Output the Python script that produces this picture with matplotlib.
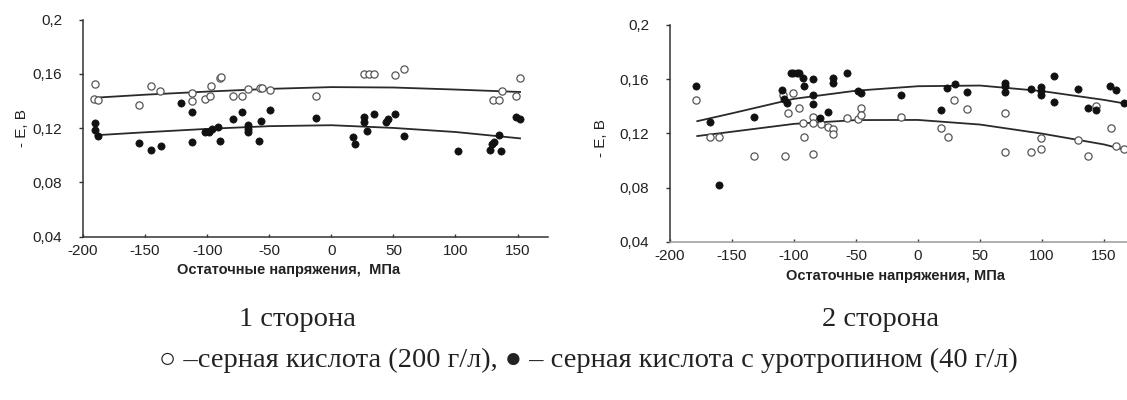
import matplotlib
matplotlib.use("Agg")
import matplotlib.pyplot as plt

# ---------------- data: side 1 ----------------
s1_open_x = [-190.5, -191, -188.3, -154.6, -145, -138.3, -112.2, -112.2, -101.4, -97.6,
             -96.7, -90, -88.6, -79, -72.3, -66.8, -57.3, -56, -49.7, -12.5,
             26.7, 30.7, 34, 51.3, 58.8, 130, 135, 137.7, 148.4, 151.6]
s1_open_y = [0.1524, 0.1413, 0.1409, 0.1372, 0.1514, 0.1477, 0.1463, 0.1401, 0.1413, 0.144,
             0.1514, 0.1568, 0.158, 0.1438, 0.1438, 0.149, 0.1494, 0.1494, 0.1482, 0.144,
             0.1602, 0.1602, 0.1602, 0.159, 0.164, 0.1411, 0.1411, 0.1475, 0.1435, 0.1573]
s1_fill_x = [-190.5, -190.5, -188.3, -154.6, -145, -137.5, -121.2, -112.2, -112.2, -101.4,
             -98.6, -96, -91.3, -89.4, -79, -72.3, -66.8, -66.8, -66.8, -56.8,
             -57.9, -49.7, -12.5, 17.4, 18.7, 26.2, 26.7, 28.9, 34, 44.1,
             45.5, 51.3, 58.8, 102.4, 127.8, 129.7, 131, 135, 136.9, 148.4, 151.6]
s1_fill_y = [0.1242, 0.1188, 0.1139, 0.109, 0.104, 0.107, 0.1384, 0.1323, 0.1097, 0.1175,
             0.1175, 0.1195, 0.1212, 0.1109, 0.1269, 0.1318, 0.1225, 0.1195, 0.117, 0.1256,
             0.1109, 0.1335, 0.1274, 0.1136, 0.1082, 0.1279, 0.1247, 0.118, 0.1308, 0.1247,
             0.1271, 0.1308, 0.1144, 0.1033, 0.1038, 0.1087, 0.11, 0.1148, 0.1033, 0.1279, 0.1266]
s1_trend_x = [-190, -150, -100, -50, 0, 50, 100, 152]
s1_trend_open = [0.1425, 0.1447, 0.1470, 0.1490, 0.1503, 0.1500, 0.1485, 0.1467]
s1_trend_fill = [0.1148, 0.1170, 0.1195, 0.1215, 0.1222, 0.1202, 0.1172, 0.1125]

# ---------------- data: side 2 ----------------
s2_open_x = [-179, -167.7, -160.2, -132.3, -107.3, -108.6, -101, -104.6, -96, -93,
             -91.9, -84.9, -84.9, -84.9, -78.5, -72.3, -68.8, -68.3, -57.5, -48.1,
             -46.2, -46.2, -14, 18.8, 24.2, 29, 39.8, 69.9, 70.4, 90.9,
             98.9, 98.9, 129, 137, 143.8, 155.4, 160, 166]
s2_open_y = [0.1447, 0.1175, 0.1175, 0.1035, 0.1035, 0.1484, 0.1496, 0.1353, 0.139, 0.1274,
             0.1175, 0.1323, 0.1274, 0.1047, 0.1269, 0.1249, 0.123, 0.1195, 0.1311, 0.1304,
             0.139, 0.1336, 0.1318, 0.1237, 0.117, 0.1447, 0.138, 0.1353, 0.1064, 0.1064,
             0.1168, 0.1081, 0.1151, 0.1035, 0.1402, 0.1237, 0.1106, 0.1081]
s2_fill_x = [-179, -167.7, -160.2, -132.3, -110, -108, -105.4, -102.7, -100.5, -97.8,
             -95.7, -93, -91.9, -84.9, -84.9, -84.9, -79, -72.3, -68.3, -68.3,
             -57.5, -48.1, -46.2, -14, 18.8, 23.7, 29.6, 39.8, 69.9, 70.4,
             70.4, 90.9, 98.9, 98.9, 98.9, 109.7, 109.7, 129, 137, 143.8,
             154.6, 160, 166]
s2_fill_y = [0.1553, 0.1286, 0.0817, 0.1323, 0.1521, 0.1452, 0.1427, 0.1644, 0.1644, 0.1644,
             0.1644, 0.1607, 0.1546, 0.16, 0.1484, 0.1417, 0.1311, 0.136, 0.1607, 0.1575,
             0.1644, 0.1509, 0.1496, 0.1484, 0.1373, 0.1533, 0.1563, 0.1504, 0.1575, 0.1546,
             0.1504, 0.1526, 0.1541, 0.1509, 0.1484, 0.1627, 0.1435, 0.1526, 0.139, 0.1373,
             0.1551, 0.1521, 0.1422]
s2_trend_x = [-178, -150, -100, -50, 0, 50, 100, 150, 167]
s2_trend_open = [0.1180, 0.1212, 0.1270, 0.1298, 0.1299, 0.1265, 0.1198, 0.1118, 0.1078]
s2_trend_fill = [0.1290, 0.1348, 0.1455, 0.1515, 0.1548, 0.1553, 0.1512, 0.1447, 0.1420]

x_ticks = [-200, -150, -100, -50, 0, 50, 100, 150]
y_ticks = [0.04, 0.08, 0.12, 0.16, 0.2]
y_tick_labels = ["0,04", "0,08", "0,12", "0,16", "0,2"]

xlabel_text = "Остаточные напряжения,  МПа"
xlabel_text2 = "Остаточные напряжения, МПа"
ylabel_text = "- E, B"
caption1 = "1 сторона"
caption2 = "2 сторона"
legend_text = "○ –серная кислота (200 г/л), ● – серная кислота с уротропином (40 г/л)"

W, H = 1127, 400
fig = plt.figure(figsize=(W / 100, H / 100), dpi=100)
fig.patch.set_facecolor("white")

sans = ["Liberation Sans", "DejaVu Sans"]
serif = ["Liberation Serif", "DejaVu Serif"]


def make_axes(rect, xlim, ox, oy, fx, fy, tx, t_open, t_fill, bottom_color):
    ax = fig.add_axes(rect)
    ax.set_xlim(*xlim)
    ax.set_ylim(0.04, 0.2)
    for s in ("top", "right"):
        ax.spines[s].set_visible(False)
    ax.spines["left"].set_color("#333333")
    ax.spines["left"].set_linewidth(1.1)
    ax.spines["bottom"].set_color(bottom_color)
    ax.spines["bottom"].set_linewidth(1.1)
    ax.plot(tx, t_open, color="#2a2a2a", lw=1.3, zorder=2)
    ax.plot(tx, t_fill, color="#2a2a2a", lw=1.3, zorder=2)
    ax.scatter(ox, oy, s=27, facecolors="white", edgecolors="#555555",
               linewidths=0.9, zorder=3, clip_on=False)
    ax.scatter(fx, fy, s=27, facecolors="#111111", edgecolors="#111111",
               linewidths=0.5, zorder=4, clip_on=False)
    ax.set_xticks(x_ticks)
    ax.set_xticklabels([str(v) for v in x_ticks], fontfamily=sans, fontsize=11, color="#222222")
    ax.set_yticks(y_ticks)
    ax.set_yticklabels(y_tick_labels, fontfamily=sans, fontsize=11, color="#222222")
    ax.tick_params(axis="y", direction="out", length=3, width=1, color="#333333", pad=12)
    ax.tick_params(axis="x", direction="in", length=2, width=1, color="#333333", pad=5)
    ax.patch.set_alpha(0)
    return ax


ax1 = make_axes([83 / W, 1 - 236.7 / H, 465 / W, 217 / H], (-200, 174.5),
                s1_open_x, s1_open_y, s1_fill_x, s1_fill_y,
                s1_trend_x, s1_trend_open, s1_trend_fill, "#333333")
ax2 = make_axes([670 / W, 1 - 241.7 / H, 457 / W, 216.7 / H], (-200, 168.5),
                s2_open_x, s2_open_y, s2_fill_x, s2_fill_y,
                s2_trend_x, s2_trend_open, s2_trend_fill, "#9a9a9a")

# axis titles
fig.text(289 / W, 1 - 270 / H, xlabel_text, ha="center", va="center",
         fontfamily=sans, fontsize=10.5, fontweight="bold", color="#222222")
fig.text(896 / W, 1 - 276 / H, xlabel_text2, ha="center", va="center",
         fontfamily=sans, fontsize=10.5, fontweight="bold", color="#222222")
fig.text(22 / W, 1 - 128 / H, ylabel_text, ha="center", va="center", rotation=90,
         fontfamily=sans, fontsize=11, color="#222222")
fig.text(601 / W, 1 - 138 / H, ylabel_text, ha="center", va="center", rotation=90,
         fontfamily=sans, fontsize=11, color="#222222")

# captions
fig.text(297 / W, 1 - 320 / H, caption1, ha="center", va="center",
         fontfamily=serif, fontsize=20.5, color="#222222")
fig.text(880 / W, 1 - 320 / H, caption2, ha="center", va="center",
         fontfamily=serif, fontsize=20.5, color="#222222")
fig.text(588 / W, 1 - 360 / H, legend_text, ha="center", va="center",
         fontfamily=serif, fontsize=20.5, color="#222222")

fig.savefig("out.png", dpi=100, facecolor="white")
